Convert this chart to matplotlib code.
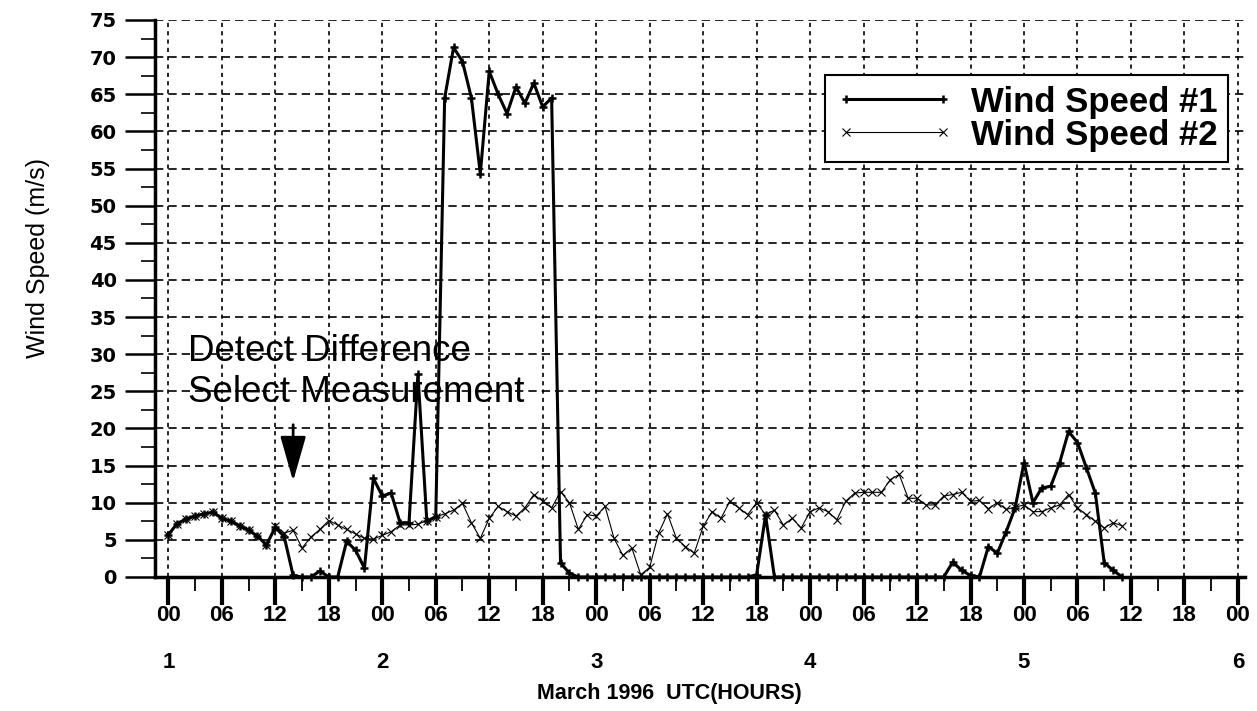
"""Wind speed comparison, 1-6 March 1996, two sensors with hourly samples."""

import matplotlib

matplotlib.use("Agg")
import matplotlib.pyplot as plt  # noqa: E402
import numpy as np  # noqa: E402

# hours since 1 March 00 UTC, one sample per hour
HOURS = list(range(0, 108))

WIND_1 = [
    5.7, 7.2, 7.8, 8.2, 8.5, 8.7, 7.9, 7.5, 6.9, 6.3, 5.5, 4.3,
    6.7, 5.4, 0.2, 0.0, 0.0, 0.8, 0.0, 0.0, 4.8, 3.6, 1.2, 13.3,
    10.9, 11.3, 7.3, 7.3, 27.3, 7.5, 8.1, 64.5, 71.3, 69.4, 64.5, 54.3,
    68.1, 65.0, 62.4, 66.0, 63.8, 66.5, 63.3, 64.5, 1.9, 0.5, 0.0, 0.0,
    0.0, 0.0, 0.0, 0.0, 0.0, 0.0, 0.0, 0.0, 0.0, 0.0, 0.0, 0.0,
    0.0, 0.0, 0.0, 0.0, 0.0, 0.0, 0.3, 8.3, 0.0, 0.0, 0.0, 0.0,
    0.0, 0.0, 0.0, 0.0, 0.0, 0.0, 0.0, 0.0, 0.0, 0.0, 0.0, 0.0,
    0.0, 0.0, 0.0, 0.0, 2.0, 0.9, 0.2, 0.0, 4.1, 3.2, 6.1, 9.3,
    15.4, 10.0, 12.0, 12.2, 15.4, 19.6, 18.1, 14.7, 11.3, 1.9, 0.9, 0.0,
]

WIND_2 = [
    5.7, 7.2, 7.8, 8.2, 8.5, 8.7, 7.9, 7.5, 6.9, 6.3, 5.5, 4.3,
    6.9, 5.9, 6.3, 3.9, 5.4, 6.4, 7.6, 7.0, 6.4, 5.8, 5.2, 5.1,
    5.6, 6.1, 7.0, 7.0, 7.1, 7.6, 8.1, 8.5, 9.0, 9.9, 7.3, 5.2,
    7.9, 9.5, 8.8, 8.2, 9.3, 11.1, 10.2, 9.3, 11.5, 10.0, 6.4, 8.4,
    8.2, 9.5, 5.2, 2.9, 3.9, 0.3, 1.3, 5.9, 8.5, 5.2, 4.1, 3.2,
    6.8, 8.8, 7.9, 10.2, 9.3, 8.4, 10.0, 8.4, 9.0, 7.0, 7.9, 6.6,
    8.8, 9.3, 8.8, 7.7, 10.2, 11.3, 11.4, 11.4, 11.4, 13.1, 13.8, 10.6,
    10.6, 9.7, 9.7, 10.9, 11.1, 11.4, 10.2, 10.3, 9.2, 10.0, 9.1, 9.4,
    9.7, 8.8, 8.8, 9.3, 9.7, 11.1, 9.3, 8.4, 7.5, 6.6, 7.3, 6.9,
]

HOUR_TICKS = list(range(0, 121, 6))
HOUR_LABELS = ["00", "06", "12", "18"] * 5 + ["00"]
DAY_LABELS = ["1", "2", "3", "4", "5", "6"]
DAY_HOURS = [0, 24, 48, 72, 96, 120]

ARIAL = ["Liberation Sans", "DejaVu Sans"]


def plot(out_path: str) -> None:
    fig = plt.figure(figsize=(12.57, 7.11), dpi=100)
    ax = fig.add_axes([0.1233, 0.1885, 0.8672, 0.7834])

    ax.plot(HOURS, WIND_1, color="black", linewidth=2.2, marker="+",
            markersize=6, markeredgewidth=1.8, clip_on=False, zorder=4,
            label="Wind Speed #1")
    ax.plot(HOURS, WIND_2, color="black", linewidth=0.8, marker="x",
            markersize=6, markeredgewidth=0.8, clip_on=False, zorder=3,
            label="Wind Speed #2")

    ax.set_xlim(-1.5, 120.8)
    ax.set_ylim(0, 75)

    ax.set_xticks(HOUR_TICKS)
    ax.set_xticklabels(HOUR_LABELS, fontfamily=ARIAL, fontweight="bold",
                       fontsize=16)
    ax.set_xticks(np.arange(3, 120, 6), minor=True)
    ax.set_yticks(np.arange(0, 76, 5))
    ax.set_yticklabels([str(v) for v in range(0, 76, 5)], fontweight="bold",
                       fontsize=14)
    ax.set_yticks(np.arange(2.5, 75, 5), minor=True)

    ax.tick_params(axis="x", which="major", direction="out", length=20,
                   width=3, pad=0)
    ax.tick_params(axis="x", which="minor", direction="out", length=10,
                   width=1.3)
    ax.tick_params(axis="y", which="major", direction="out", length=21.5,
                   width=1.8, pad=6)
    ax.tick_params(axis="y", which="minor", direction="out", length=10,
                   width=1.2)

    for side in ("top", "right"):
        ax.spines[side].set_visible(False)
    for side in ("left", "bottom"):
        ax.spines[side].set_linewidth(2.5)
        ax.spines[side].set_zorder(5)

    ax.xaxis.grid(True, which="major", color="black", linewidth=1.2,
                  linestyle=(0, (2.5, 2.5)))
    ax.yaxis.grid(True, which="major", color="black", linewidth=1.2,
                  linestyle=(0, (5, 3)))
    ax.set_axisbelow(True)

    trans = ax.get_xaxis_transform()
    for hour, day in zip(DAY_HOURS, DAY_LABELS):
        ax.text(hour, -0.153, day, transform=trans, ha="center", va="center",
                fontfamily=ARIAL, fontweight="bold", fontsize=16)
    ax.text(0.4716, -0.21, "March 1996  UTC(HOURS)", transform=ax.transAxes,
            ha="center", va="center", fontfamily=ARIAL, fontweight="bold",
            fontsize=15.5)

    fig.text(0.030, 0.637, "Wind Speed (m/s)", rotation=90, ha="center",
             va="center", fontfamily=ARIAL, fontsize=18)

    ax.text(2.2, 30.3, "Detect Difference", ha="left", va="center",
            fontfamily=ARIAL, fontsize=26.5, zorder=6)
    ax.text(2.2, 24.9, "Select Measurement", ha="left", va="center",
            fontfamily=ARIAL, fontsize=26.5, zorder=6)
    ax.annotate("", xy=(14.0, 12.9), xytext=(14.0, 20.5),
                arrowprops=dict(arrowstyle="-|>,head_length=1.4,head_width=0.4",
                                color="black", lw=2.0, mutation_scale=20,
                                shrinkA=0, shrinkB=0))

    leg = ax.legend(loc="upper right", bbox_to_anchor=(0.984, 0.901),
                    borderaxespad=0, numpoints=2, handlelength=3.4,
                    handletextpad=0.5, borderpad=0.3, labelspacing=0.0,
                    fancybox=False, framealpha=1.0, edgecolor="black",
                    prop={"family": ARIAL, "weight": "bold", "size": 25})
    leg.get_frame().set_linewidth(1.5)
    leg.set_zorder(7)

    fig.savefig(out_path, dpi=100)
    plt.close(fig)


def main():
    plot("out.png")


if __name__ == "__main__":
    main()
